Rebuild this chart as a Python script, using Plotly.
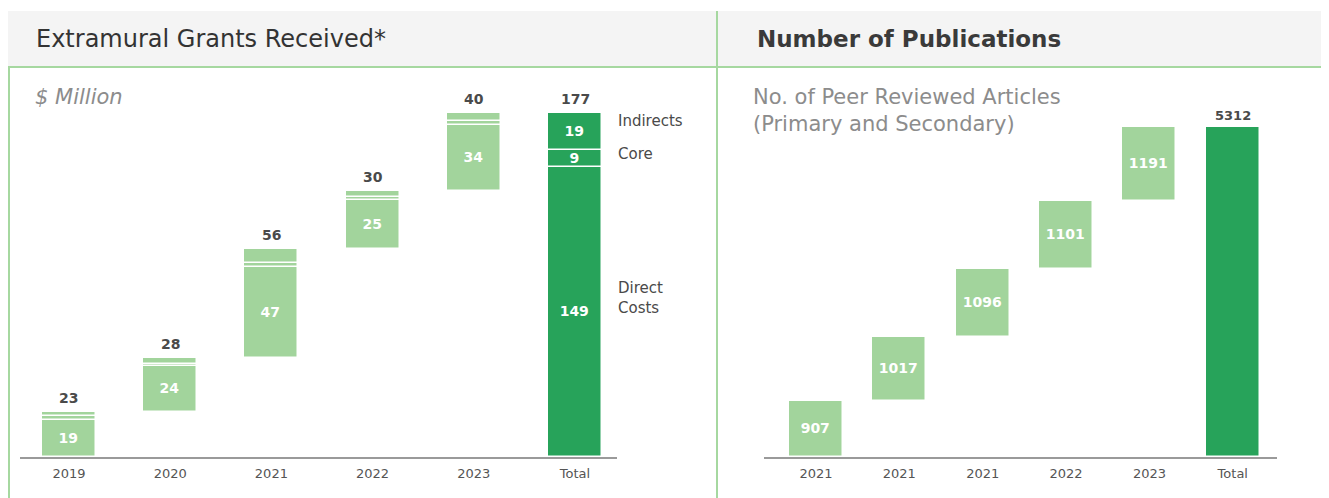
import plotly.graph_objects as go
from itertools import accumulate

# ---------------- data ----------------
grant_labels = ["2019", "2020", "2021", "2022", "2023", "Total"]
grant_direct = [19, 24, 47, 25, 34]
grant_core = [2, 1, 2, 2, 2]
grant_indirect = [2, 3, 7, 3, 4]
grant_totals = [23, 28, 56, 30, 40]

pub_labels = ["2021", "2021", "2021", "2022", "2023", "Total"]
pub_values = [907, 1017, 1096, 1101, 1191]

# ---------------- style ----------------
LIGHT = "#a2d49c"
DARK = "#27a35a"
BORDER = "#a6d8a0"
TXT = "#4a4a4a"
FONT = "DejaVu Sans"

OFF = 8                       # default page body margin
W, H = 1329 - OFF, 498 - OFF  # figure size


def px_x(p):
    return (p - OFF) / W


def px_y(p):
    return 1 - (p - OFF) / H


# derived values
g_start = [0] + list(accumulate(grant_totals))[:-1]
g_total = sum(grant_totals)
d_total, c_total, i_total = sum(grant_direct), sum(grant_core), sum(grant_indirect)

direct_y = grant_direct + [d_total]
direct_base = g_start + [0]
core_y = grant_core + [c_total]
core_base = [s + d for s, d in zip(g_start, grant_direct)] + [d_total]
ind_y = grant_indirect + [i_total]
ind_base = [s + d + c for s, d, c in zip(g_start, grant_direct, grant_core)] + [d_total + c_total]
g_tops = [s + t for s, t in zip(g_start, grant_totals)] + [g_total]
g_colors = [LIGHT] * 5 + [DARK]
gx = list(range(len(grant_labels)))

p_start = [0] + list(accumulate(pub_values))[:-1]
p_total = sum(pub_values)
pxv = list(range(len(pub_labels)))
p_y = pub_values + [p_total]
p_base = p_start + [0]
p_colors = [LIGHT] * 5 + [DARK]

fig = go.Figure()

bar_common = dict(
    marker_line_color="white", marker_line_width=1.5,
    textposition="inside", insidetextanchor="middle", textangle=0,
    textfont=dict(color="white", size=14, family=FONT, weight="bold"),
    hoverinfo="skip", showlegend=False,
)

# left chart segments
fig.add_trace(go.Bar(x=gx, y=direct_y, base=direct_base, width=0.534,
                     marker_color=g_colors, text=[str(v) for v in direct_y],
                     xaxis="x", yaxis="y", **bar_common))
fig.add_trace(go.Bar(x=gx, y=core_y, base=core_base, width=0.534,
                     marker_color=g_colors,
                     text=[""] * 5 + [str(c_total)],
                     xaxis="x", yaxis="y", **bar_common))
fig.add_trace(go.Bar(x=gx, y=ind_y, base=ind_base, width=0.534,
                     marker_color=g_colors,
                     text=[""] * 5 + [str(i_total)],
                     xaxis="x", yaxis="y", **bar_common))

# right chart
fig.add_trace(go.Bar(x=pxv, y=p_y, base=p_base, width=0.647,
                     marker_color=p_colors,
                     text=[str(v) for v in pub_values] + [""],
                     xaxis="x2", yaxis="y2", **bar_common))

annotations = []
# totals above bars
for xv, top, val in zip(gx, g_tops, grant_totals + [g_total]):
    annotations.append(dict(x=xv, y=top, xref="x", yref="y", text=str(val), showarrow=False,
                            xanchor="center", yanchor="middle", yshift=14,
                            font=dict(color=TXT, size=14, family=FONT, weight="bold")))
annotations.append(dict(x=pxv[-1], y=p_total, xref="x2", yref="y2", text=str(p_total),
                        showarrow=False, xanchor="center", yanchor="middle", yshift=12,
                        font=dict(color=TXT, size=13, family=FONT, weight="bold")))

# side labels next to total bar
side = [
    ("Indirects", d_total + c_total + i_total / 2, 10),
    ("Core", d_total + c_total / 2, 5),
    ("Direct<br>Costs", d_total / 2, 14),
]
for txt, yv, ys in side:
    annotations.append(dict(x=5, y=yv, xref="x", yref="y", text=txt, showarrow=False,
                            xanchor="left", yanchor="middle", xshift=41, yshift=ys, align="left",
                            font=dict(color=TXT, size=15, family=FONT)))

# titles and subtitles
annotations += [
    dict(x=px_x(34), y=px_y(39), xref="paper", yref="paper", text="Extramural Grants Received*",
         showarrow=False, xanchor="left", yanchor="middle",
         font=dict(color="#333333", size=24, family=FONT)),
    dict(x=px_x(755), y=px_y(39), xref="paper", yref="paper", text="Number of Publications",
         showarrow=False, xanchor="left", yanchor="middle",
         font=dict(color="#3a3a3a", size=23, family=FONT, weight="bold")),
    dict(x=px_x(33), y=px_y(97), xref="paper", yref="paper", text="<i>$ Million</i>",
         showarrow=False, xanchor="left", yanchor="middle",
         font=dict(color="#8c8c8c", size=21, family=FONT)),
    dict(x=px_x(751), y=px_y(110), xref="paper", yref="paper",
         text="No. of Peer Reviewed Articles<br>(Primary and Secondary)",
         showarrow=False, xanchor="left", yanchor="middle", align="left",
         font=dict(color="#8c8c8c", size=21, family=FONT)),
]

shapes = [
    dict(type="rect", xref="paper", yref="paper", x0=px_x(7), x1=px_x(1327), y0=px_y(66), y1=px_y(11),
         fillcolor="#f4f4f4", line_width=0, layer="below"),
    dict(type="line", xref="paper", yref="paper", x0=px_x(8), x1=px_x(1324), y0=px_y(67), y1=px_y(67),
         line=dict(color=BORDER, width=2)),
    dict(type="line", xref="paper", yref="paper", x0=px_x(9), x1=px_x(9), y0=px_y(67), y1=px_y(498),
         line=dict(color=BORDER, width=2)),
    dict(type="line", xref="paper", yref="paper", x0=px_x(1323), x1=px_x(1323), y0=px_y(67), y1=px_y(498),
         line=dict(color=BORDER, width=2)),
    dict(type="line", xref="paper", yref="paper", x0=px_x(717), x1=px_x(717), y0=px_y(11), y1=px_y(498),
         line=dict(color=BORDER, width=2)),
]

base_y_px = 457
top_px = 80
g_scale = (457 - 113) / g_total
p_scale = (457 - 127) / p_total

xcommon = dict(showgrid=False, zeroline=False, showline=True, linecolor="#9a9a9a", linewidth=2,
               ticks="outside", ticklen=3, tickcolor="rgba(0,0,0,0)",
               tickfont=dict(color="#555555", size=13, family=FONT), fixedrange=True)
ycommon = dict(showgrid=False, zeroline=False, showline=False, showticklabels=False, fixedrange=True)

fig.update_layout(
    width=W, height=H,
    margin=dict(l=0, r=0, t=0, b=0),
    paper_bgcolor="white", plot_bgcolor="rgba(0,0,0,0)",
    barmode="overlay", bargap=0,
    uniformtext=dict(minsize=14, mode="show"),
    xaxis=dict(domain=[px_x(20), px_x(617)], range=[-0.484, 5.415],
               tickvals=gx, ticktext=grant_labels, anchor="y", **xcommon),
    yaxis=dict(domain=[px_y(base_y_px), px_y(top_px)], range=[0, (base_y_px - top_px) / g_scale],
               anchor="x", **ycommon),
    xaxis2=dict(domain=[px_x(764), px_x(1277)], range=[-0.623, 5.53],
                tickvals=pxv, ticktext=pub_labels, anchor="y2", **xcommon),
    yaxis2=dict(domain=[px_y(base_y_px), px_y(top_px)], range=[0, (base_y_px - top_px) / p_scale],
                anchor="x2", **ycommon),
    annotations=annotations,
    shapes=shapes,
)

fig.write_html("out.html")
